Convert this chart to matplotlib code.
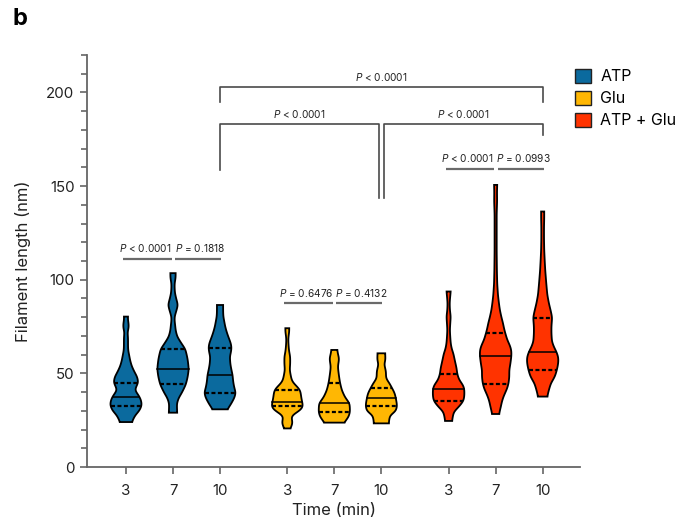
import numpy as np
import matplotlib
matplotlib.use("Agg")
import matplotlib.pyplot as plt
from matplotlib.patches import Patch

plt.rcParams['font.family'] = ['Inter', 'DejaVu Sans']
plt.rcParams['mathtext.fontset'] = 'custom'
plt.rcParams['mathtext.it'] = 'Inter:italic'
plt.rcParams['mathtext.rm'] = 'Inter'

# ---------------- data ----------------
groups = ["ATP", "Glu", "ATP + Glu"]
times = ["3", "7", "10"]
colors = ["#0B6A9E", "#FFB703", "#FF3300"]

# violin profiles: value (nm) and relative density (half-width)
atp3_v = [24, 27.7, 30, 32.8, 35, 37.4, 40, 41, 43, 45, 48, 51, 54, 57, 60, 62, 64, 66, 69, 72, 74.5, 77, 78.5, 80.3]
atp3_d = [5.7, 9, 13, 15.3, 15, 13.3, 10, 8.5, 10, 12, 11, 8, 5.5, 4, 3, 2.2, 2, 2, 2, 1.5, 2.7, 2.5, 1.8, 2]
atp7_v = [29, 31, 34, 37, 39.2, 42, 44.2, 48.2, 52.3, 57.3, 60, 63, 66, 69.6, 73, 76, 78, 80.3, 83, 86.5, 90, 93, 96, 98, 101, 103.5]
atp7_d = [4, 3.8, 3.7, 5.5, 8, 10.5, 12.3, 14, 15, 14, 13, 11.7, 8, 4, 2.5, 2, 1.5, 1.5, 3, 4.7, 3, 1.8, 1.5, 1.5, 2.5, 2.5]
atp10_v = [30.8, 33, 35, 37, 39.7, 42, 44.7, 47, 49.1, 52, 55, 59, 61, 63.7, 66, 69.6, 72, 75, 78, 80.3, 83, 86.5]
atp10_d = [7, 10, 12, 14, 15.3, 14, 13, 12.5, 12.2, 11, 10, 9.5, 10.5, 11.2, 10.5, 8, 6.5, 5, 4, 3.2, 3, 3]
glu3_v = [20.6, 22, 23.3, 25, 26.9, 28, 29.5, 31, 32.6, 34.9, 37, 39, 41.1, 43, 45, 46.5, 49, 51.8, 55, 58.9, 62, 65, 67.8, 70, 72, 74.1]
glu3_d = [3, 4.5, 5.5, 5, 4, 6, 11, 15, 16.3, 15.3, 14.5, 14, 13.3, 10, 6, 4.5, 3.5, 2.5, 3, 3, 1.8, 1.3, 1, 1.3, 2, 2]
glu7_v = [23.7, 25, 26.7, 29.5, 31, 34, 37.2, 41, 45, 48, 51, 53.6, 56, 58, 60, 62.5]
glu7_d = [9, 11, 13.3, 14.7, 14.5, 14.3, 10, 7, 5.3, 4.5, 3.8, 3.3, 4, 4.5, 3.5, 2.7]
glu10_v = [23.3, 25, 27.8, 29.6, 32.6, 34.5, 36.9, 39.4, 42, 44.6, 47.3, 51, 55, 57, 60.7]
glu10_d = [7.3, 7.5, 8.5, 14, 15.3, 14.8, 14, 13, 10.5, 8, 4.5, 4.5, 2.7, 4, 3.7]
ag3_v = [24.6, 27, 29.5, 32.3, 35.3, 38, 41.5, 43.5, 46.6, 49.5, 53, 55.4, 58, 60.7, 63, 66, 70, 73.2, 76, 80.3, 84, 87.5, 91, 93.7]
ag3_d = [3.3, 4, 5, 10, 14.2, 15, 15, 14, 10, 8.3, 7.5, 6.5, 5.5, 4.5, 3, 2, 1.5, 1.2, 1.5, 2, 1.2, 1, 1.5, 2]
ag7_v = [28.3, 30, 32.3, 35, 37.6, 39.5, 42, 44.7, 48, 51.8, 55, 59.3, 62, 64.3, 68, 71.8, 74, 76.8, 80, 83.9, 88, 92, 98, 105, 115, 125, 135, 142, 147, 150.6]
ag7_d = [3.3, 4, 5, 6, 7.5, 9, 11, 12.3, 13, 13, 14, 15, 15, 14, 11, 9, 8, 7, 5.5, 4, 3, 2.2, 1.5, 1.2, 1.0, 1.0, 1.0, 1.4, 1.3, 1.5]
ag10_v = [37.6, 40, 42, 44.7, 46.5, 48.5, 51.8, 55, 57.1, 59, 61.6, 64, 67, 71.4, 75, 79.8, 83, 87.5, 92, 98.1, 105, 110, 115.9, 122, 128, 133, 136.4]
ag10_d = [4.5, 5.5, 6.5, 8, 10, 12, 13.8, 15, 15.3, 15, 13.3, 11, 9, 8.5, 8.5, 9.2, 8, 6, 4.5, 3.5, 2.5, 2, 1.5, 1.3, 1.3, 1.5, 1.5]

profiles_v = [atp3_v, atp7_v, atp10_v, glu3_v, glu7_v, glu10_v, ag3_v, ag7_v, ag10_v]
profiles_d = [atp3_d, atp7_d, atp10_d, glu3_d, glu7_d, glu10_d, ag3_d, ag7_d, ag10_d]

# quartiles (Q1, median, Q3)
q1 = [32.8, 44.2, 39.7, 32.6, 29.5, 32.6, 35.4, 44.5, 51.8]
med = [37.4, 52.3, 49.1, 34.9, 34.0, 36.9, 41.5, 59.1, 61.6]
q3 = [45.0, 63.0, 63.7, 41.1, 45.0, 42.0, 49.5, 71.8, 79.8]

# within-group p values
within_labels = ["$\\it{P}$ < 0.0001", "$\\it{P}$ = 0.1818",
                 "$\\it{P}$ = 0.6476", "$\\it{P}$ = 0.4132",
                 "$\\it{P}$ < 0.0001", "$\\it{P}$ = 0.0993"]
within_y = [111.1, 111.1, 87.4, 87.4, 159.2, 159.2]
between_label = "$\\it{P}$ < 0.0001"

# ---------------- layout ----------------
fig = plt.figure(figsize=(6.9, 5.28), dpi=100)
ax = fig.add_axes([0.126, 0.1155, 0.715, 0.7805])

gap = 3.43
positions = [g * gap + i for g in range(3) for i in range(3)]
halfmax = 0.335

def smooth_profile(v, d):
    v = np.asarray(v, float); d = np.asarray(d, float)
    y = np.linspace(v[0], v[-1], 400)
    w = np.interp(y, v, d)
    step = y[1] - y[0]
    sig = 1.1 / step
    k = np.arange(-int(4 * sig), int(4 * sig) + 1)
    ker = np.exp(-0.5 * (k / sig) ** 2); ker /= ker.sum()
    wp = np.pad(w, len(k) // 2, mode='edge')
    ws = np.convolve(wp, ker, mode='valid')
    return y, ws

for idx, (v, d) in enumerate(zip(profiles_v, profiles_d)):
    x0 = positions[idx]
    col = colors[idx // 3]
    y, w = smooth_profile(v, d)
    w = w / max(d) * halfmax
    xs = np.concatenate([x0 - w, (x0 + w)[::-1]])
    ys = np.concatenate([y, y[::-1]])
    ax.fill(xs, ys, facecolor=col, edgecolor='black', lw=1.3, zorder=2)
    for qv, ls, lw in [(q1[idx], (0, (1.8, 1.1)), 1.6), (med[idx], '-', 1.1), (q3[idx], (0, (1.8, 1.1)), 1.6)]:
        hw = np.interp(qv, y, w)
        ax.plot([x0 - hw, x0 + hw], [qv, qv], color='black', ls=ls, lw=lw, zorder=3)

# within-group brackets
gray = '#6a6a6a'
for g in range(3):
    a, b, c = positions[g * 3: g * 3 + 3]
    yl = within_y[g * 2]
    segs = [(a - 0.06, b - 0.03), (b + 0.04, c + 0.02)]
    shifts = [-0.05, 0.05]
    for j, (x1, x2) in enumerate(segs):
        ax.plot([x1, x2], [yl, yl], color=gray, lw=1.6, solid_capstyle='butt', zorder=3)
        ax.text((x1 + x2) / 2 + shifts[j], yl + 2.4, within_labels[g * 2 + j], ha='center', va='bottom',
                fontsize=7.3, color='#222222')

# between-group brackets
bc = '#4a4a4a'
blw = 1.2
p10a, p10g, p10ag = positions[2], positions[5], positions[8]
# top
ax.plot([p10a, p10a, p10ag, p10ag], [194.8, 202.8, 202.8, 194.8], color=bc, lw=blw, zorder=3)
ax.text((p10a + p10ag) / 2, 204.8, between_label, ha='center', va='bottom', fontsize=7.3, color='#222222')
# left second level
xl2 = p10g - 0.04
ax.plot([p10a, p10a, xl2, xl2], [158.6, 183.2, 183.2, 143.7], color=bc, lw=blw, zorder=3)
ax.text((p10a + xl2) / 2, 185.2, between_label, ha='center', va='bottom', fontsize=7.3, color='#222222')
# right second level
xr2 = p10g + 0.06
ax.plot([xr2, xr2, p10ag, p10ag], [143.7, 183.2, 183.2, 177.4], color=bc, lw=blw, zorder=3)
ax.text((xr2 + p10ag) / 2, 185.2, between_label, ha='center', va='bottom', fontsize=7.3, color='#222222')

# axes styling
ax.set_xlim(-0.83, 9.66)
ax.set_ylim(0, 220)
ax.set_xticks(positions)
ax.set_xticklabels(times * 3)
ax.set_yticks([0, 50, 100, 150, 200])
ax.set_yticks(np.arange(0, 221, 10), minor=True)
for s in ['top', 'right']:
    ax.spines[s].set_visible(False)
for s in ['left', 'bottom']:
    ax.spines[s].set_color('#666666')
    ax.spines[s].set_linewidth(1.3)
ax.tick_params(axis='both', which='major', length=5, width=1.2, color='#666666', labelsize=10.8, labelcolor='#222222', pad=4)
ax.tick_params(axis='y', which='minor', length=4, width=1.2, color='#666666')
ax.tick_params(axis='x', which='major', pad=7)
ax.set_xlabel("Time (min)", fontsize=12, color='#222222', labelpad=4)
ax.set_ylabel("Filament length (nm)", fontsize=12, color='#222222', labelpad=11)

handles = [Patch(facecolor=c, edgecolor='#222222', lw=1.0) for c in colors]
fig.legend(handles, groups, loc='upper left', bbox_to_anchor=(0.812, 0.897), frameon=False,
           fontsize=11.5, handlelength=1.0, handleheight=1.0, handletextpad=0.6, labelspacing=0.4)

fig.text(0.018, 0.985, "b", fontsize=17, fontweight='bold', va='top', ha='left')

fig.savefig("out.png", dpi=100)
